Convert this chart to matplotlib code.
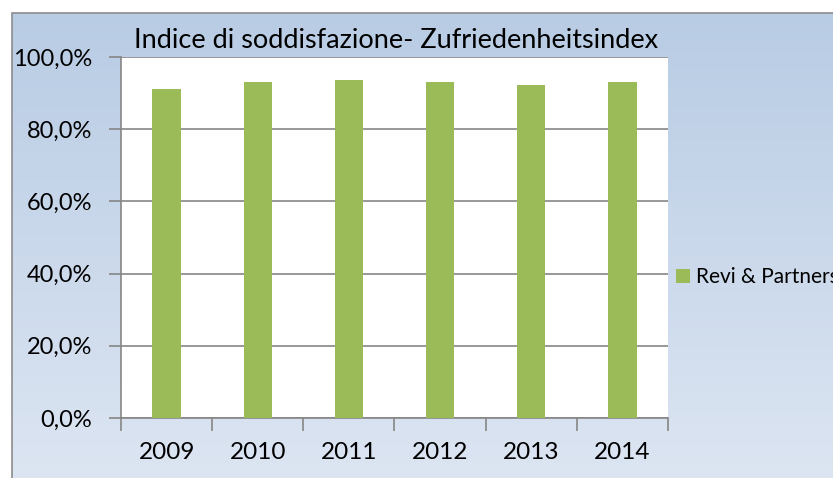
import numpy as np
import matplotlib
matplotlib.use("Agg")
import matplotlib.pyplot as plt
from matplotlib.patches import Rectangle
from matplotlib.ticker import FuncFormatter

# data
years = ["2009", "2010", "2011", "2012", "2013", "2014"]
satisfaction = [0.911, 0.931, 0.936, 0.932, 0.922, 0.931]
series_name = "Revi & Partners"
title = "Indice di soddisfazione- Zufriedenheitsindex"

plt.rcParams["font.family"] = ["Lato", "DejaVu Sans"]

W, H = 833, 478
fig = plt.figure(figsize=(W / 100, H / 100), dpi=100)

# chart background: blue gradient inside a gray border
bg = fig.add_axes([12 / W, 0, 1 - 12 / W, 1 - 13 / H])
grad = np.linspace(0, 1, 256).reshape(-1, 1)
top = np.array([0.722, 0.800, 0.894])
bot = np.array([0.863, 0.898, 0.949])
img = top + (bot - top) * grad[:, :, None]
bg.imshow(img, aspect="auto", extent=[0, 1, 0, 1])
bg.set_axis_off()
fig.add_artist(Rectangle((12 / W, -0.1), 1.1, 1 - 13 / H + 0.1,
                         transform=fig.transFigure, fill=False,
                         edgecolor="#8c8c8c", linewidth=1.2))

# plot area
ax = fig.add_axes([121 / W, 60 / H, 547 / W, 361 / H])
ax.set_facecolor("white")
x = np.arange(len(years))
bars = ax.bar(x, satisfaction, width=0.31, color="#9BBB59", label=series_name, zorder=3)

ax.set_xlim(-0.5, len(years) - 0.5)
ax.set_ylim(0, 1)
ax.set_yticks(np.arange(0, 1.01, 0.2))
ax.yaxis.set_major_formatter(FuncFormatter(lambda v, p: f"{v * 100:.1f}%".replace(".", ",")))
ax.grid(axis="y", color="#868686", linewidth=1.2, zorder=1)

ax.set_xticks(x)
ax.set_xticklabels(years)
ax.set_xticks(np.arange(-0.5, len(years)), minor=True)
ax.tick_params(axis="x", which="major", length=0, pad=17, labelsize=17.5)
ax.tick_params(axis="x", which="minor", length=9, width=1.2, color="#868686")
ax.tick_params(axis="y", length=9, width=1.2, color="#868686", labelsize=17, pad=12)

for s in ["top", "right"]:
    ax.spines[s].set_visible(False)
for s in ["left", "bottom"]:
    ax.spines[s].set_color("#868686")
    ax.spines[s].set_linewidth(1.2)

fig.text(396 / W, 1 - 40 / H, title, ha="center", va="center", fontsize=19.5)

fig.legend(handles=[bars], labels=[series_name], loc="center left",
           bbox_to_anchor=(676 / W, 1 - 277 / H), frameon=False, borderpad=0,
           borderaxespad=0, handlelength=0.65, handleheight=0.65,
           handletextpad=0.3, fontsize=15)

fig.savefig("out.png", dpi=100)
